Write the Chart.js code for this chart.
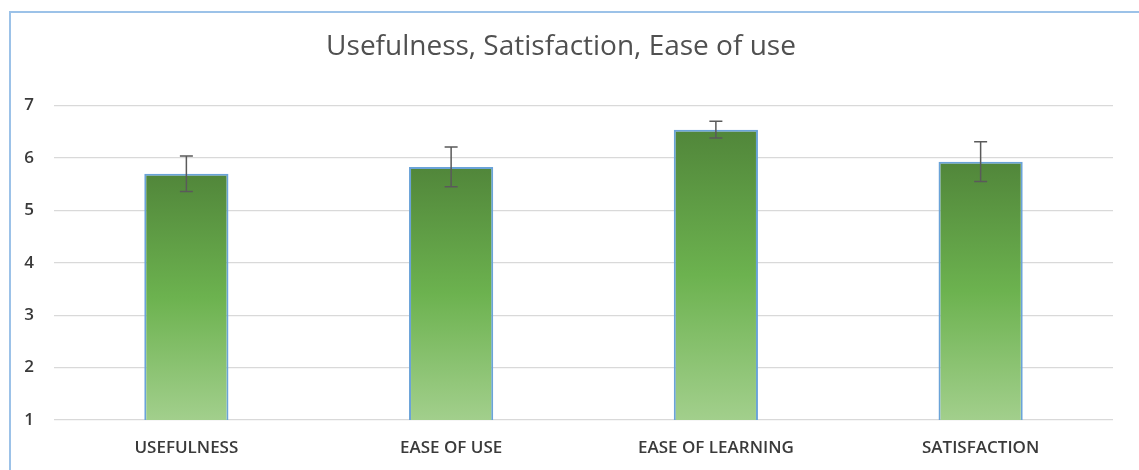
<!DOCTYPE html>
<html>
<head>
<meta charset="utf-8">
<script src="https://cdn.jsdelivr.net/npm/chart.js@4"></script>
<style>
  html, body { margin: 0; padding: 0; background: #fff; }
  .frame { position: absolute; left: 9px; top: 11px; width: 1130px; height: 459px;
           border-left: 2px solid #9cc2e8; border-top: 2px solid #9cc2e8; box-sizing: border-box; }
  canvas { position: absolute; left: 0; top: 0; }
</style>
</head>
<body>
<div class="frame"></div>
<canvas id="chart" width="1139" height="470"></canvas>
<script>
const categories = ['USEFULNESS', 'EASE OF USE', 'EASE OF LEARNING', 'SATISFACTION'];
const means = [5.70, 5.83, 6.54, 5.93];
const errors = [0.34, 0.38, 0.16, 0.38];
const yTicks = [1, 2, 3, 4, 5, 6, 7];

const fontFamily = '"Open Sans", Lato, sans-serif';

const barGradient = (ctx) => {
    const chart = ctx.chart;
    const area = chart.chartArea;
    if (!area || ctx.type !== 'data') return '#70ad47';
    const top = chart.scales.y.getPixelForValue(ctx.raw);
    const g = chart.ctx.createLinearGradient(0, top, 0, area.bottom);
    g.addColorStop(0, '#51863a');
    g.addColorStop(0.5, '#6cb24f');
    g.addColorStop(1, '#a2cf8c');
    return g;
};

const errorBars = {
    id: 'errorBars',
    afterDatasetsDraw(chart) {
        const { ctx } = chart;
        const y = chart.scales.y;
        const meta = chart.getDatasetMeta(0);
        ctx.save();
        ctx.strokeStyle = '#5a5a5a';
        ctx.lineWidth = 1.5;
        meta.data.forEach((bar, i) => {
            const hi = y.getPixelForValue(means[i] + errors[i]);
            const lo = y.getPixelForValue(means[i] - errors[i]);
            const cap = 6.5;
            ctx.beginPath();
            ctx.moveTo(bar.x, hi); ctx.lineTo(bar.x, lo);
            ctx.moveTo(bar.x - cap, hi); ctx.lineTo(bar.x + cap, hi);
            ctx.moveTo(bar.x - cap, lo); ctx.lineTo(bar.x + cap, lo);
            ctx.stroke();
        });
        ctx.restore();
    }
};

new Chart(document.getElementById('chart'), {
    type: 'bar',
    data: {
        labels: categories,
        datasets: [{
            data: means,
            backgroundColor: barGradient,
            borderColor: '#6aa3d8',
            borderWidth: 2,
            barPercentage: 0.318,
            categoryPercentage: 1,
        }],
    },
    options: {
        responsive: false,
        animation: false,
        layout: { padding: { left: 9, right: 26, top: 0, bottom: 10 } },
        plugins: {
            legend: { display: false },
            tooltip: { enabled: false },
            title: {
                display: true,
                text: 'Usefulness, Satisfaction, Ease of use',
                color: '#505050',
                font: { family: fontFamily, size: 28, weight: '500' },
                padding: { top: 30, bottom: 42 },
            },
        },
        scales: {
            x: {
                grid: { display: false },
                border: { display: false },
                ticks: {
                    color: '#3a3a3a',
                    font: { family: fontFamily, size: 17, weight: '600' },
                    padding: 10,
                },
                afterFit: (s) => { s.height = 40; },
            },
            y: {
                min: yTicks[0],
                max: yTicks[yTicks.length - 1],
                afterBuildTicks: (s) => { s.ticks = yTicks.map((v) => ({ value: v })); },
                grid: { color: '#d9d9d9', lineWidth: 1.3, drawTicks: false },
                border: { display: false },
                ticks: {
                    color: '#3a3a3a',
                    font: { family: fontFamily, size: 17, weight: '600' },
                    padding: 20,
                },
                afterFit: (s) => { s.width = 45; },
            },
        },
    },
    plugins: [errorBars],
});
</script>
</body>
</html>
